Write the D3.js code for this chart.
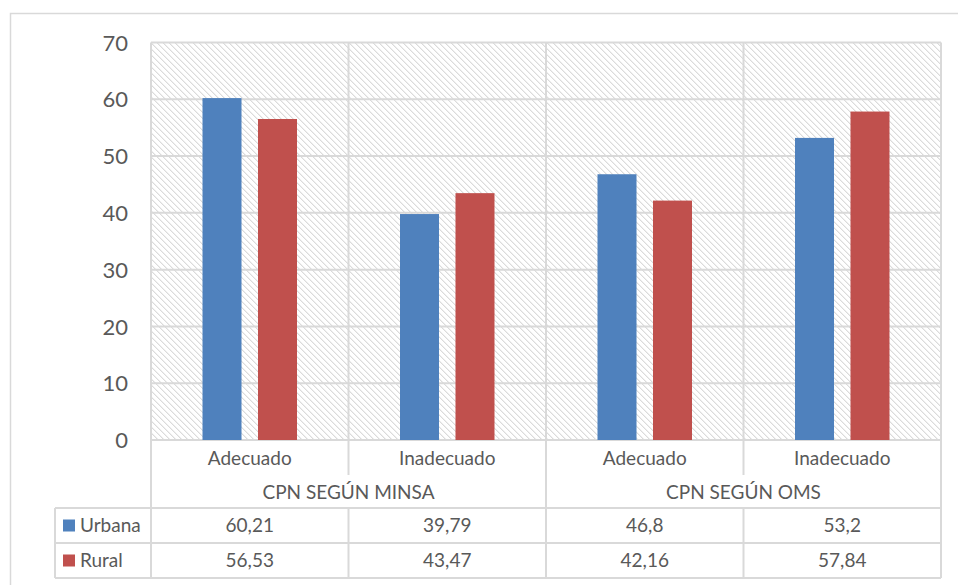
<!DOCTYPE html>
<html>
<head>
<meta charset="utf-8">
<script src="https://cdn.jsdelivr.net/npm/d3@7"></script>
<style>
  html, body { margin: 0; padding: 0; background: #fff; }
  svg { display: block; }
  text { font-family: Lato, "Open Sans", sans-serif; fill: #595959; }
</style>
</head>
<body>
<svg id="chart" width="958" height="585"></svg>
<script>
// Chart data
const categories = ["Adecuado", "Inadecuado", "Adecuado", "Inadecuado"];
const groups = ["CPN SEGÚN MINSA", "CPN SEGÚN OMS"];
const seriesNames = ["Urbana", "Rural"];
const urbana = [60.21, 39.79, 46.8, 53.2];
const rural = [56.53, 43.47, 42.16, 57.84];
const yTicks = [0, 10, 20, 30, 40, 50, 60, 70];
const colors = ["#4f81bd", "#c0504d"];

const seriesValues = [urbana, rural];
const fmt = v => String(v).replace(".", ",");

const svg = d3.select("#chart");
const grid = "#d9d9d9";

// Plot geometry
const plotL = 151, plotR = 941, plotT = 42.5, plotB = 440;
const catRowBottom = 475, groupRowBottom = 508, rowH = 35, tableLeft = 55;
const tableBottom = groupRowBottom + rowH * 2;
const labelSize = 19;

const x = d3.scaleBand().domain(d3.range(categories.length)).range([plotL, plotR]).padding(0);
const bw = x.bandwidth();
const inner = d3.scaleBand().domain(seriesNames)
  .range([bw / 2 - 47.25, bw / 2 + 47.25]).paddingInner(0.297).paddingOuter(0);
const y = d3.scaleLinear().domain([0, 70]).range([plotB, plotT]);

// Pixel-stepped downward diagonal hatch for the plot background
const defs = svg.append("defs");
const pat = defs.append("pattern").attr("id", "hatch")
  .attr("patternUnits", "userSpaceOnUse").attr("width", 6).attr("height", 6);
pat.selectAll("rect.a").data(d3.range(6)).join("rect").attr("class", "a")
  .attr("x", i => i).attr("y", i => i).attr("width", 1).attr("height", 1)
  .attr("fill", "#dbdbdb").attr("shape-rendering", "crispEdges");
pat.selectAll("rect.b").data(d3.range(6)).join("rect").attr("class", "b")
  .attr("x", i => (i + 1) % 6).attr("y", i => i).attr("width", 1).attr("height", 1)
  .attr("fill", "#efefef").attr("shape-rendering", "crispEdges");

// Outer chart frame
svg.append("rect").attr("x", 10.5).attr("y", 13.5).attr("width", 960).attr("height", 600)
  .attr("fill", "none").attr("stroke", grid).attr("stroke-width", 1.5);

svg.append("rect").attr("x", plotL).attr("y", plotT)
  .attr("width", plotR - plotL).attr("height", plotB - plotT).attr("fill", "url(#hatch)");

// Horizontal gridlines
svg.append("g").selectAll("line").data(yTicks).join("line")
  .attr("x1", plotL).attr("x2", plotR)
  .attr("y1", d => y(d)).attr("y2", d => y(d))
  .attr("stroke", grid).attr("stroke-width", 2);

// Y axis labels
const yAxis = d3.axisLeft(y).tickValues(yTicks).tickSize(0).tickPadding(0);
const yg = svg.append("g").attr("transform", `translate(${plotL - 23},0)`).call(yAxis);
yg.select(".domain").remove();
yg.selectAll("text").attr("font-size", 22).attr("fill", "#595959")
  .style("font-family", "Lato, sans-serif").attr("dy", "0.35em");

// Vertical dividers: category lines, group lines, outer edges
const lines = svg.append("g").attr("stroke", grid).attr("stroke-width", 2);
[1, 3].forEach(i => {
  const xx = x(i);
  lines.append("line").attr("x1", xx).attr("x2", xx).attr("y1", plotT).attr("y2", catRowBottom);
  lines.append("line").attr("x1", xx).attr("x2", xx).attr("y1", groupRowBottom).attr("y2", tableBottom);
});
[plotL, x(2), plotR].forEach(xx => {
  lines.append("line").attr("x1", xx).attr("x2", xx).attr("y1", plotT).attr("y2", tableBottom);
});
// Table horizontal rules
[groupRowBottom, groupRowBottom + rowH, tableBottom].forEach(yy => {
  lines.append("line").attr("x1", tableLeft).attr("x2", plotR).attr("y1", yy).attr("y2", yy);
});
lines.append("line").attr("x1", tableLeft).attr("x2", tableLeft)
  .attr("y1", groupRowBottom).attr("y2", tableBottom);

// Bars
const barG = svg.append("g");
seriesNames.forEach((s, si) => {
  barG.selectAll(null).data(seriesValues[si]).join("rect")
    .attr("x", (d, i) => x(i) + inner(s))
    .attr("width", inner.bandwidth())
    .attr("y", d => y(d))
    .attr("height", d => y(0) - y(d))
    .attr("fill", colors[si]);
});

// Category labels
svg.append("g").selectAll("text").data(categories).join("text")
  .attr("x", (d, i) => x(i) + bw / 2).attr("y", 458).attr("dy", "0.35em")
  .attr("text-anchor", "middle").attr("font-size", labelSize).text(d => d);

// Group labels
svg.append("g").selectAll("text").data(groups).join("text")
  .attr("x", (d, i) => (x(i * 2) + x(i * 2 + 1) + bw) / 2).attr("y", 492).attr("dy", "0.35em")
  .attr("text-anchor", "middle").attr("font-size", labelSize).text(d => d);

// Data table rows with legend keys
seriesNames.forEach((s, si) => {
  const cy = groupRowBottom + rowH * si + rowH / 2;
  svg.append("rect").attr("x", 63).attr("y", cy - 6).attr("width", 12).attr("height", 12)
    .attr("fill", colors[si]);
  svg.append("text").attr("x", 80).attr("y", cy).attr("dy", "0.35em")
    .attr("font-size", labelSize).text(s);
  svg.append("g").selectAll("text").data(seriesValues[si]).join("text")
    .attr("x", (d, i) => x(i) + bw / 2).attr("y", cy).attr("dy", "0.35em")
    .attr("text-anchor", "middle").attr("font-size", labelSize).text(d => fmt(d));
});
</script>
</body>
</html>
